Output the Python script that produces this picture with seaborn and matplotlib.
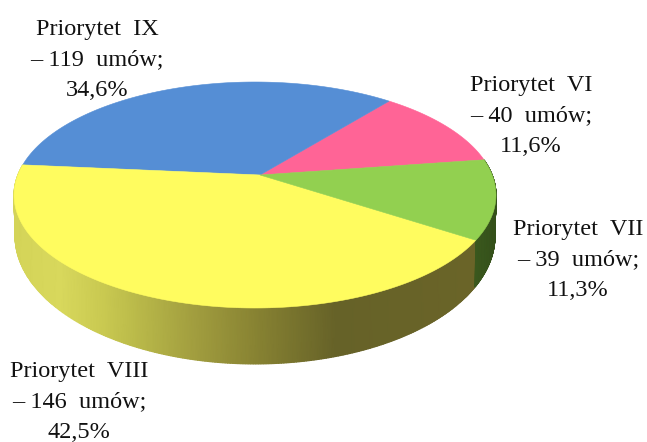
import numpy as np
import matplotlib
matplotlib.use("Agg")
import matplotlib.pyplot as plt
from matplotlib.colors import LinearSegmentedColormap
from matplotlib.patches import Polygon
import seaborn as sns

priorities = ["VI", "IX", "VIII", "VII"]
contracts = [40, 119, 146, 39]
percent_labels = ["11,6%", "34,6%", "42,5%", "11,3%"]
slice_colors = ["#FF6496", "#558ED5", "#FFFC5F", "#92D050"]
label_centers = {"VI": (531, 116), "IX": (97, 60), "VIII": (79, 402), "VII": (578, 260)}

# geometry of the tilted disc, in image pixels
TOP = dict(cx=255, cy=195, a=241, b=113)
BOTTOM = dict(cx=255, cy=236, a=240, b=128)
K = 0.177
START = 8.2

sns.set_theme(style="white")
plt.rcParams["font.family"] = ["Liberation Serif"]
palette = sns.color_palette(slice_colors)


def project(theta_deg, g):
    t = np.radians(theta_deg)
    x, y = np.cos(t), np.sin(t)
    d = 1 + K * y
    u = x * np.sqrt(1 - K**2) / d
    v = (y + K) / d
    return g["cx"] + g["a"] * u, g["cy"] - g["b"] * v


fig = plt.figure(figsize=(6.47, 4.42), dpi=100)
ax = fig.add_axes([0, 0, 1, 1])
wedges, _ = ax.pie(contracts, startangle=START, colors=palette, counterclock=True)
ax.set_aspect("auto")
ax.set_xlim(0, 647)
ax.set_ylim(442, 0)
ax.axis("off")

wall_yellow = LinearSegmentedColormap.from_list("wy", [
    (0.00, "#D4D458"), (0.10, "#D8D85C"), (0.20, "#C8C850"), (0.26, "#BBBB4A"),
    (0.40, "#A09C3E"), (0.53, "#878232"), (0.70, "#666228"), (1.00, "#6A6428")])
wall_green = LinearSegmentedColormap.from_list("wg", ["#3C5A1E", "#34501A"])


def wall(t1, t2, cmap, xmin, xmax):
    th = np.linspace(t1, t2, 300)
    xt, yt = project(th, TOP)
    xb, yb = project(th, BOTTOM)
    X = np.vstack([xt, xb])
    Y = np.vstack([yt, yb])
    C = (X - xmin) / (xmax - xmin)
    ax.pcolormesh(X, Y, C, cmap=cmap, vmin=0, vmax=1, shading="gouraud", zorder=1)


by_name = dict(zip(priorities, wedges))
w8 = by_name["VIII"]
w7 = by_name["VII"]
wall(w8.theta1, w8.theta2, wall_yellow, 14, 475)
wall(w7.theta1, w7.theta2, wall_green, 470, 497)

apex_x = TOP["cx"] + 5
apex_y = TOP["cy"] - TOP["b"] * K
for w in wedges:
    th = np.linspace(w.theta1, w.theta2, 200)
    xs, ys = project(th, TOP)
    pts = np.column_stack([np.r_[apex_x, xs], np.r_[apex_y, ys]])
    ax.add_patch(Polygon(pts, closed=True, facecolor=w.get_facecolor(),
                         edgecolor=w.get_facecolor(), linewidth=0.4, zorder=2))
    w.set_visible(False)

for name, n, pct in zip(priorities, contracts, percent_labels):
    x, y = label_centers[name]
    ax.text(x, y, f"Priorytet  {name}\n– {n}  umów;\n{pct}", ha="center", va="center",
            fontsize=17.5, color="#111111", linespacing=1.6, zorder=3)

fig.savefig("out.png", dpi=100)
